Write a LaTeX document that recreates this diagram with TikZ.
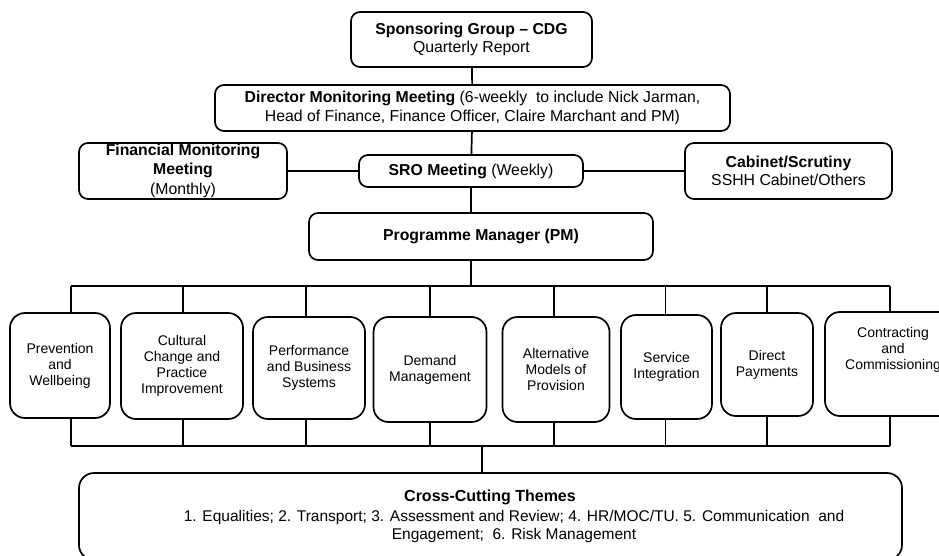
\documentclass[tikz,border=0pt]{standalone}
\usepackage{fontspec}
\setmainfont{Liberation Sans}
\begin{document}
\begin{tikzpicture}[x=1pt, y=-1pt, line width=1.7pt]
	\tikzstyle{box}   = [draw=black, rounded corners=9pt, inner sep=0pt, align=center, font=\fontsize{15.8}{18.5}\selectfont]
	\tikzstyle{work}  = [draw=black, rounded corners=15pt, inner sep=0pt, align=center, font=\fontsize{14}{16}\selectfont]
	\tikzstyle{plain} = [inner sep=0pt, align=center, font=\fontsize{16}{18.5}\selectfont]

	\useasboundingbox (0,0) rectangle (939,556);

	% governance
	\node[box, minimum width=241pt, minimum height=55pt] (spon) at (471.5,39.5) {\textbf{Sponsoring Group – CDG}\\Quarterly Report};
	\node[box, minimum width=515pt, minimum height=46pt] (dir) at (472.5,108) {\textbf{Director Monitoring Meeting} (6-weekly\ \ to include Nick Jarman,\\Head of Finance, Finance Officer, Claire Marchant and PM)};
	\node[box, minimum width=224pt, minimum height=32pt] (sro) at (471,171) {\textbf{SRO Meeting} (Weekly)};
	\node[box, minimum width=208pt, minimum height=56pt] (fin) at (183,171) {\textbf{Financial Monitoring}\\\textbf{Meeting}\\[2pt](Monthly)};
	\node[box, minimum width=207pt, minimum height=56pt] (cab) at (788.5,171) {\textbf{Cabinet/Scrutiny}\\SSHH Cabinet/Others};
	\node[box, minimum width=344pt, minimum height=47pt] (pm) at (481,236.5) {\textbf{Programme Manager (PM)}};

	\draw (spon) -- (dir);
	\draw (dir) -- (sro);
	\draw (sro) -- (fin);
	\draw (sro) -- (cab);
	\draw (sro.south) -- (sro.south |- pm.north);

	\coordinate (topbus) at (0,286);
	\coordinate (botbus) at (0,446);
	\draw (sro.south |- pm.south) -- (sro.south |- topbus);

	% workstreams
	\foreach \name/\x/\w/\y/\h/\dx/\lbl in {
		w1/60/100/365.5/105/11/{Prevention\\and\\Wellbeing},
		w2/182/122/366/106/1/{Cultural\\Change and\\Practice\\Improvement},
		w3/309/112/368/102/-3/{Performance\\and Business\\Systems},
		w4/430/113/369.5/105/0/{Demand\\Management},
		w5/556/107/369.5/105/-2/{Alternative\\Models of\\Provision},
		w6/666.5/91/367/104/-1/{Service\\Integration},
		w7/767/92/364.5/103/0/{Direct\\Payments},
		w8/893/136/364/104/-3/{Contracting\\and\\Commissioning\\[10pt]\strut}}
	{
		\node[work, minimum width=\w pt, minimum height=\h pt] (\name) at (\x,\y) {\lbl};
		\draw ([xshift=\dx pt]\name.north) -- ([xshift=\dx pt]\name.north |- topbus);
		\draw ([xshift=\dx pt]\name.south) -- ([xshift=\dx pt]\name.south |- botbus);
	}
	\draw ([xshift=11pt]w1.north |- topbus) -- ([xshift=-3pt]w8.north |- topbus);
	\draw ([xshift=11pt]w1.south |- botbus) -- ([xshift=-3pt]w8.south |- botbus);

	% cross-cutting
	\node[work, minimum width=823pt, minimum height=87pt] (cross) at (490.5,516.5) {};
	\node[plain] (ctitle) at (490,497) {\textbf{Cross-Cutting Themes}};
	\node[plain, font=\fontsize{15.5}{18}\selectfont] (clist) at (514,526) {1. Equalities; 2. Transport; 3. Assessment and Review; 4. HR/MOC/TU. 5. Communication\ \ and\\Engagement;\ \ 6. Risk Management};
	\draw ([xshift=-8.5pt]cross.north) -- ([xshift=-8.5pt]cross.north |- botbus);
\end{tikzpicture}
\end{document}
